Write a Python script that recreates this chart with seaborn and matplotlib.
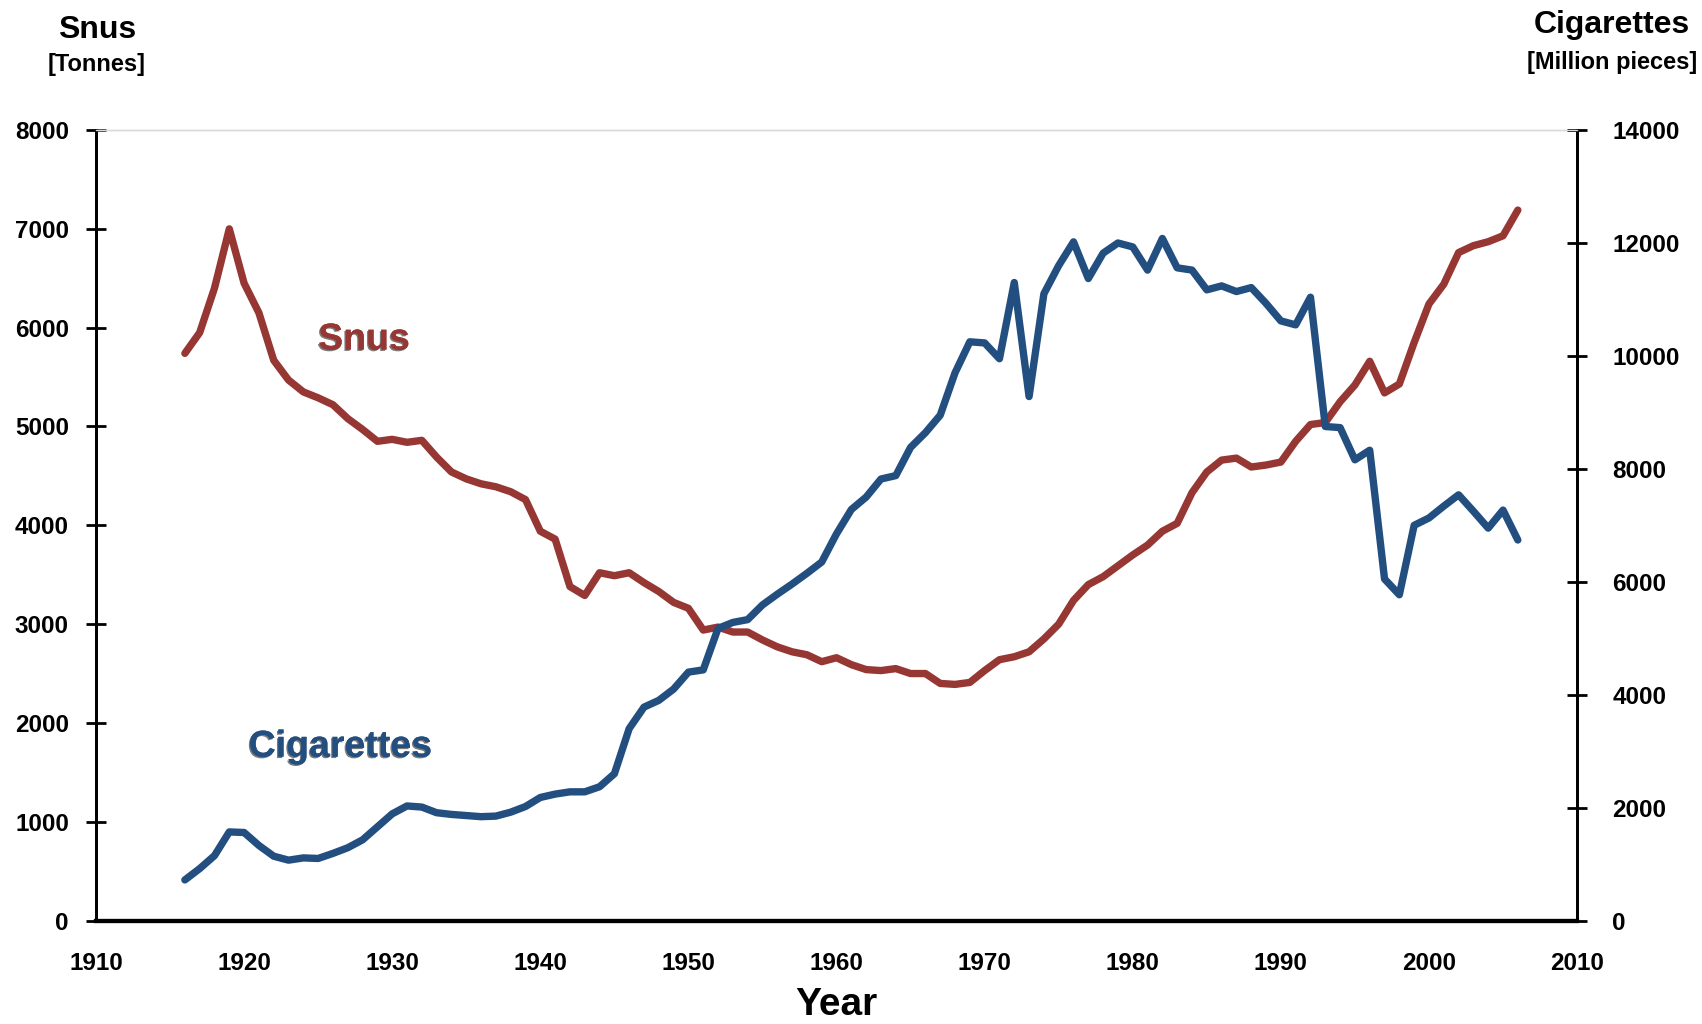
import pandas as pd
import matplotlib
matplotlib.use("Agg")
import matplotlib.pyplot as plt
import matplotlib.patheffects as pe
import seaborn as sns

# ------------------------------
# Data (annual values)
# ------------------------------
years = list(range(1916, 2007))

snus_tonnes = [
    5740, 5950, 6400, 7000, 6450, 6150, 5670, 5470, 5350, 5290,   # 1916-1925
    5220, 5080, 4970, 4850, 4870, 4840, 4860, 4690, 4540, 4470,   # 1926-1935
    4420, 4390, 4340, 4260, 3940, 3860, 3380, 3290, 3520, 3490,   # 1936-1945
    3520, 3420, 3330, 3220, 3160, 2940, 2970, 2920, 2920, 2840,   # 1946-1955
    2770, 2720, 2690, 2620, 2660, 2590, 2540, 2530, 2550, 2500,   # 1956-1965
    2500, 2400, 2390, 2410, 2530, 2640, 2670, 2720, 2850, 3000,   # 1966-1975
    3240, 3400, 3480, 3590, 3700, 3800, 3940, 4020, 4330, 4540,   # 1976-1985
    4660, 4680, 4590, 4610, 4640, 4850, 5020, 5040, 5250, 5420,   # 1986-1995
    5660, 5340, 5430, 5850, 6240, 6440, 6760, 6830, 6870, 6930,   # 1996-2005
    7190,                                                         # 2006
]

cigarettes_mpieces = [
    720, 920, 1150, 1570, 1560, 1330, 1140, 1070, 1110, 1100,     # 1916-1925
    1190, 1290, 1430, 1660, 1890, 2030, 2010, 1910, 1880, 1860,   # 1926-1935
    1840, 1850, 1920, 2020, 2180, 2240, 2280, 2280, 2370, 2600,   # 1936-1945
    3400, 3780, 3900, 4100, 4400, 4440, 5175, 5280, 5330, 5590,   # 1946-1955
    5780, 5960, 6150, 6350, 6850, 7280, 7500, 7820, 7880, 8380,   # 1956-1965
    8640, 8950, 9700, 10250, 10230, 9950, 11300, 9280, 11100, 11600,  # 1966-1975
    12020, 11370, 11820, 12000, 11930, 11520, 12080, 11560, 11520, 11170,  # 1976-1985
    11240, 11140, 11210, 10930, 10620, 10550, 11040, 8750, 8730, 8160,  # 1986-1995
    8330, 6050, 5770, 7000, 7130, 7340, 7540, 7250, 6950, 7270,   # 1996-2005
    6740,                                                         # 2006
]

x_ticks = list(range(1910, 2011, 10))
snus_ticks = list(range(0, 8001, 1000))
cig_ticks = list(range(0, 14001, 2000))

df = pd.DataFrame({"Year": years, "Snus": snus_tonnes, "Cigarettes": cigarettes_mpieces})

# ------------------------------
# Style
# ------------------------------
sns.set_style("white")
plt.rcParams["font.family"] = ["Liberation Sans", "DejaVu Sans"]
plt.rcParams["text.color"] = "black"
plt.rcParams["xtick.color"] = "black"
plt.rcParams["ytick.color"] = "black"
plt.rcParams["axes.labelcolor"] = "black"

red = "#963734"
blue = "#234E80"

fig = plt.figure(figsize=(17.02, 10.24), dpi=100)
ax = fig.add_axes([0.0564, 0.101, 0.8702, 0.772])
ax2 = ax.twinx()

sns.lineplot(data=df, x="Year", y="Snus", ax=ax, color=red, linewidth=5.3,
             solid_joinstyle="round", solid_capstyle="round")
sns.lineplot(data=df, x="Year", y="Cigarettes", ax=ax2, color=blue, linewidth=5.3,
             solid_joinstyle="round", solid_capstyle="round")

ax.set_xlim(1910, 2010)
ax.set_ylim(0, 8000)
ax2.set_ylim(0, 14000)
ax.set_xticks(x_ticks)
ax.set_yticks(snus_ticks)
ax2.set_yticks(cig_ticks)

for a in (ax, ax2):
    for side in ("left", "right"):
        a.spines[side].set_color("black")
        a.spines[side].set_linewidth(2)
    a.spines["top"].set_color("#d9d9d9")
    a.spines["top"].set_linewidth(1)
    a.spines["bottom"].set_color("black")
    a.spines["bottom"].set_linewidth(3)

ax.tick_params(axis="y", direction="inout", length=15, width=2, pad=12, labelsize=17.5)
ax2.tick_params(axis="y", direction="inout", length=15, width=2, pad=18, labelsize=17.5)
ax.tick_params(axis="x", direction="inout", length=15, width=2, pad=15, labelsize=17.5)
for lab in ax.get_xticklabels() + ax.get_yticklabels() + ax2.get_yticklabels():
    lab.set_fontweight("bold")

ax.set_xlabel("Year", fontsize=28, fontweight="bold", labelpad=9)
ax.set_ylabel("")
ax2.set_ylabel("")

# Axis titles above the y axes
fig.text(97 / 1702, 1 - 30 / 1024, "Snus", ha="center", va="center",
         fontsize=23, fontweight="bold")
fig.text(97 / 1702, 1 - 65 / 1024, "[Tonnes]", ha="center", va="center",
         fontsize=17, fontweight="bold")
fig.text(1612 / 1702, 1 - 25 / 1024, "Cigarettes", ha="center", va="center",
         fontsize=23, fontweight="bold")
fig.text(1612 / 1702, 1 - 62 / 1024, "[Million pieces]", ha="center", va="center",
         fontsize=17, fontweight="bold")

# In-chart series labels
shadow = [pe.withSimplePatchShadow(offset=(-1, -1), shadow_rgbFace="#222222", alpha=0.6), pe.Normal()]
ax.text(1928.1, 5880, "Snus", color=red, fontsize=27, fontweight="bold",
        ha="center", va="center", path_effects=shadow)
ax.text(1926.5, 1760, "Cigarettes", color=blue, fontsize=27, fontweight="bold",
        ha="center", va="center", path_effects=shadow)

fig.savefig("out.png", dpi=100)
